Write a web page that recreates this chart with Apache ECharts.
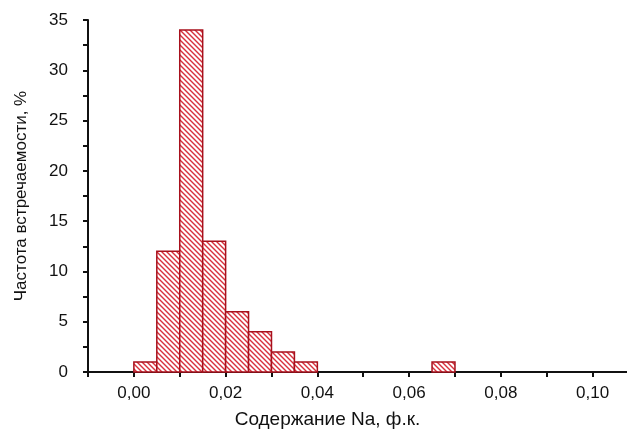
<!DOCTYPE html>
<html>
<head>
<meta charset="utf-8">
<script src="https://cdn.jsdelivr.net/npm/echarts@6/dist/echarts.min.js"></script>
<style>
  html, body { margin: 0; padding: 0; background: #fff; }
  #box01 { width: 627px; height: 430px; }
</style>
</head>
<body>
<div id="box01"></div>
<script>
// интервалы гистограммы (начало / конец) и частота, %
var binFrom = [0.000, 0.005, 0.010, 0.015, 0.020, 0.025, 0.030, 0.035, 0.065];
var binTo   = [0.005, 0.010, 0.015, 0.020, 0.025, 0.030, 0.035, 0.040, 0.070];
var freq    = [1, 12, 34, 13, 6, 4, 2, 1, 1];

var yLabels = ['0', '5', '10', '15', '20', '25', '30', '35'];
var xLabels = ['0,00', '0,02', '0,04', '0,06', '0,08', '0,10'];

// штриховка столбцов
function makeHatch() {
    var c = document.createElement('canvas');
    c.width = 5; c.height = 5;
    var ctx = c.getContext('2d');
    ctx.fillStyle = '#fff';
    ctx.fillRect(0, 0, 5, 5);
    ctx.strokeStyle = '#d8303c';
    ctx.lineWidth = 1.4;
    ctx.beginPath();
    ctx.moveTo(-1, -1); ctx.lineTo(6, 6);
    ctx.moveTo(-1, 4); ctx.lineTo(1, 6);
    ctx.moveTo(4, -1); ctx.lineTo(6, 1);
    ctx.stroke();
    return c;
}
var hatch = makeHatch();

var data = [];
for (var i = 0; i < freq.length; i++) {
    data.push([binFrom[i], binTo[i], freq[i]]);
}

var myChart = echarts.init(document.getElementById('box01'));

function fmtX(v) {
    var s = (Math.round(v * 100) / 100).toFixed(2).replace('.', ',');
    return xLabels.indexOf(s) >= 0 ? s : '';
}
function fmtY(v) {
    var s = String(Math.round(v * 10) / 10);
    return yLabels.indexOf(s) >= 0 ? s : '';
}

var font = 'Liberation Sans, Arial, sans-serif';
var axisText = { color: '#111', fontSize: 17, fontFamily: font };

var option = {
    animation: false,
    grid: { left: 88, top: 20, right: 0, bottom: 58, containLabel: false, outerBoundsMode: 'none' },
    xAxis: {
        type: 'value',
        min: -0.01,
        max: 0.1075,
        interval: 0.01,
        name: 'Содержание Na, ф.к.',
        nameLocation: 'middle',
        nameGap: 38,
        nameTextStyle: { color: '#111', fontSize: 19, fontFamily: font, padding: [0, 60, 0, 0] },
        axisLine: { onZero: false, lineStyle: { color: '#111', width: 2 } },
        axisTick: { length: 5, lineStyle: { color: '#111', width: 2 } },
        axisLabel: Object.assign({ margin: 13, formatter: fmtX, showMaxLabel: false }, axisText),
        splitLine: { show: false }
    },
    yAxis: {
        type: 'value',
        min: 0,
        max: 35,
        interval: 2.5,
        name: 'Частота встречаемости, %',
        nameLocation: 'middle',
        nameGap: 58,
        nameTextStyle: { color: '#111', fontSize: 17, fontFamily: font },
        axisLine: { show: true, onZero: false, lineStyle: { color: '#111', width: 2 } },
        axisTick: { show: true, length: 5, lineStyle: { color: '#111', width: 2 } },
        axisLabel: Object.assign({ margin: 20, formatter: fmtY }, axisText),
        splitLine: { show: false }
    },
    series: [{
        type: 'custom',
        data: data,
        encode: { x: [0, 1], y: 2 },
        renderItem: function (params, api) {
            var p0 = api.coord([api.value(0), api.value(2)]);
            var p1 = api.coord([api.value(1), 0]);
            return {
                type: 'rect',
                shape: { x: p0[0], y: p0[1], width: p1[0] - p0[0], height: p1[1] - p0[1] },
                style: { fill: { image: hatch, repeat: 'repeat' }, stroke: '#a8101c', lineWidth: 1.5 }
            };
        }
    }]
};

myChart.setOption(option);
</script>
</body>
</html>
